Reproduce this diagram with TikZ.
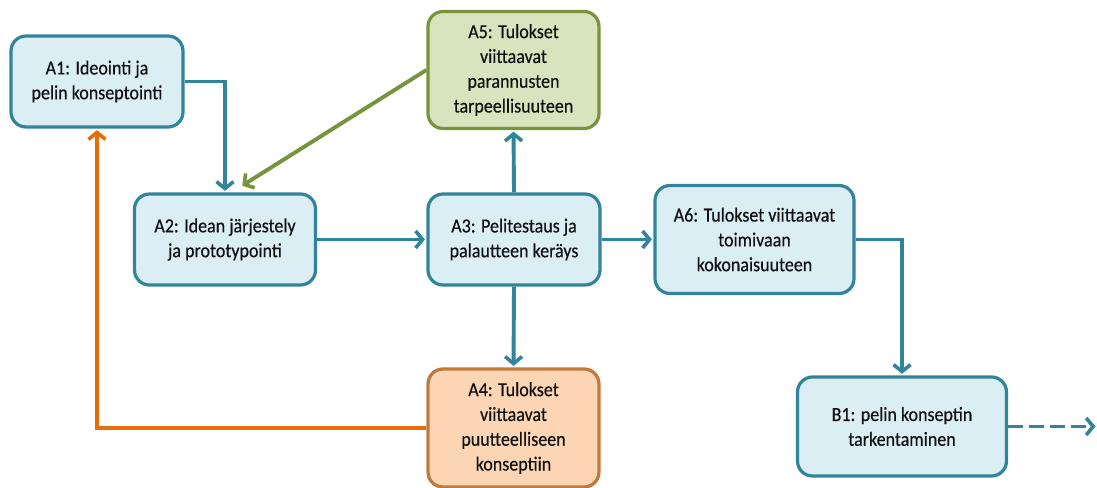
\documentclass[tikz,border=0pt]{standalone}
\usepackage{fontspec}
\setmainfont{Carlito}[FakeStretch=0.9, FakeBold=0.4]
\usetikzlibrary{arrows.meta,calc}

\definecolor{tealline}{HTML}{31849B}
\definecolor{tealfill}{HTML}{DBEEF4}
\definecolor{greenline}{HTML}{77933C}
\definecolor{greenfill}{HTML}{D7E4BD}
\definecolor{orangeline}{HTML}{C0793B}
\definecolor{orangefill}{HTML}{FCD5B5}
\definecolor{orangearrow}{HTML}{E46C0A}
\definecolor{textcol}{HTML}{111111}

\tikzset{
  stage/.style={draw=tealline, fill=tealfill, line width=3.2pt,
    rounded corners=15pt, align=center, inner sep=0pt,
    text=textcol, font=\fontsize{20}{24.8}\selectfont},
  greenstage/.style={stage, draw=greenline, fill=greenfill},
  orangestage/.style={stage, draw=orangeline, fill=orangefill},
  flow/.style={draw=tealline, line width=3.9pt,
    -{Straight Barb[length=7pt,width=17pt,line width=3.6pt]}, shorten >=1.5pt},
  greenflow/.style={flow, draw=greenline,
    -{Straight Barb[length=7pt,width=17pt,line width=3.6pt,color=greenline]}},
  orangeflow/.style={flow, draw=orangearrow,
    -{Straight Barb[length=7pt,width=17pt,line width=3.6pt,color=orangearrow]}}
}

\begin{document}
\begin{tikzpicture}[x=1pt, y=-1pt]
  \useasboundingbox (0,0) rectangle (1097,487);

  % process stages
  \node[stage, minimum width=172pt, minimum height=91pt] (A1) at (97,81.5)
    {A1: Ideointi ja\\pelin konseptointi};
  \node[greenstage, minimum width=171pt, minimum height=117pt] (A5) at (513.5,70)
    {A5: Tulokset\\viittaavat\\parannusten\\tarpeellisuuteen};
  \node[stage, minimum width=181pt, minimum height=91pt] (A2) at (225,239.5)
    {A2: Idean järjestely\\ja prototypointi};
  \node[stage, minimum width=172pt, minimum height=91pt] (A3) at (514,239.5)
    {A3: Pelitestaus ja\\palautteen keräys};
  \node[stage, minimum width=199pt, minimum height=108pt] (A6) at (754.5,239.5)
    {A6: Tulokset viittaavat\\toimivaan\\kokonaisuuteen};
  \node[orangestage, minimum width=171pt, minimum height=118pt] (A4) at (513.5,428)
    {A4: Tulokset\\viittaavat\\puutteelliseen\\konseptiin};
  \node[stage, minimum width=209pt, minimum height=99pt] (B1) at (902,426.5)
    {B1: pelin konseptin\\tarkentaminen};

  \coordinate (next) at (1097,426.5);

  % connectors
  \draw[flow] (A1.east) -| (A2.north);
  \draw[greenflow] (A5.west) -- ($(A2.north)+(16,-6)$);
  \draw[flow] (A2.east) -- (A3.west);
  \draw[flow] (A3.north) -- (A5.south);
  \draw[flow] (A3.south) -- (A4.north);
  \draw[flow] (A3.east) -- (A6.west);
  \draw[flow] (A6.east) -| (B1.north);
  \draw[orangeflow] (A4.west) -| (A1.south);
  \draw[flow, dash pattern=on 15pt off 6pt] (B1.east) -- (next);
\end{tikzpicture}
\end{document}
